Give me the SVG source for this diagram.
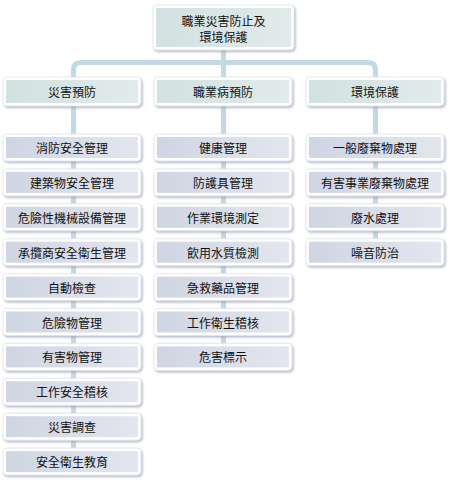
<svg xmlns="http://www.w3.org/2000/svg" width="452" height="483" viewBox="0 0 452 483">
<style>
.t{font-family:"Noto Sans CJK TC","Noto Sans CJK SC",sans-serif;font-size:12px;fill:#111;text-anchor:middle;dominant-baseline:central}
.outer{fill:#fff;stroke:#e2e5ec;stroke-width:0.8;filter:url(#sh)}
.in3{fill:url(#g3)}
.in2{fill:url(#g2)}
.con{fill:none;stroke:#c3d8e5;stroke-width:5}
</style>
<defs>
<linearGradient id="g3" x1="0" y1="0" x2="1" y2="0">
<stop offset="0" stop-color="#d0d5e3"/>
<stop offset="1" stop-color="#e3e6ee"/>
</linearGradient>
<linearGradient id="g2" x1="0" y1="0" x2="1" y2="0">
<stop offset="0" stop-color="#d2e1e1"/>
<stop offset="1" stop-color="#e1ebea"/>
</linearGradient>
<filter id="sh" x="-10%" y="-20%" width="125%" height="160%">
<feDropShadow dx="1.2" dy="1.5" stdDeviation="1.2" flood-color="#8e95aa" flood-opacity="0.7"/>
</filter>
</defs>
<rect width="452" height="483" fill="#fff"/>
<g id="connectors">
<line class="con" x1="223.5" y1="48" x2="223.5" y2="360"/>
<path class="con" d="M73.5 470 V70 Q73.5 62.5 81 62.5 H368 Q375.5 62.5 375.5 70 V255"/>
</g>
<g id="root">
<rect class="outer" x="153" y="5" width="141" height="45" rx="4"/>
<rect class="in2" x="156" y="8" width="135" height="39"/>
<text class="t" x="223.5" y="20">職業災害防止及</text>
<text class="t" x="223.5" y="36">環境保護</text>
</g>
<g id="c1">
<rect class="outer" x="3" y="77" width="138" height="29" rx="4"/>
<rect class="in2" x="6" y="80" width="132" height="23"/>
<text class="t" x="72" y="91.5">災害預防</text>
</g>
<g id="c2">
<rect class="outer" x="154" y="77" width="138" height="29" rx="4"/>
<rect class="in2" x="157" y="80" width="132" height="23"/>
<text class="t" x="223" y="91.5">職業病預防</text>
</g>
<g id="c3">
<rect class="outer" x="306" y="77" width="138" height="29" rx="4"/>
<rect class="in2" x="309" y="80" width="132" height="23"/>
<text class="t" x="375" y="91.5">環境保護</text>
</g>
<g id="a1"><rect class="outer" x="3" y="134" width="138" height="27" rx="4"/><rect class="in3" x="6" y="137" width="132" height="21"/><text class="t" x="72" y="147.5">消防安全管理</text></g>
<g id="a2"><rect class="outer" x="3" y="168.9" width="138" height="27" rx="4"/><rect class="in3" x="6" y="171.9" width="132" height="21"/><text class="t" x="72" y="182.4">建築物安全管理</text></g>
<g id="a3"><rect class="outer" x="3" y="203.8" width="138" height="27" rx="4"/><rect class="in3" x="6" y="206.8" width="132" height="21"/><text class="t" x="72" y="217.3">危險性機械設備管理</text></g>
<g id="a4"><rect class="outer" x="3" y="238.7" width="138" height="27" rx="4"/><rect class="in3" x="6" y="241.7" width="132" height="21"/><text class="t" x="72" y="252.2">承攬商安全衛生管理</text></g>
<g id="a5"><rect class="outer" x="3" y="273.6" width="138" height="27" rx="4"/><rect class="in3" x="6" y="276.6" width="132" height="21"/><text class="t" x="72" y="287.1">自動檢查</text></g>
<g id="a6"><rect class="outer" x="3" y="308.5" width="138" height="27" rx="4"/><rect class="in3" x="6" y="311.5" width="132" height="21"/><text class="t" x="72" y="322">危險物管理</text></g>
<g id="a7"><rect class="outer" x="3" y="343.4" width="138" height="27" rx="4"/><rect class="in3" x="6" y="346.4" width="132" height="21"/><text class="t" x="72" y="356.9">有害物管理</text></g>
<g id="a8"><rect class="outer" x="3" y="378.3" width="138" height="27" rx="4"/><rect class="in3" x="6" y="381.3" width="132" height="21"/><text class="t" x="72" y="391.8">工作安全稽核</text></g>
<g id="a9"><rect class="outer" x="3" y="413.2" width="138" height="27" rx="4"/><rect class="in3" x="6" y="416.2" width="132" height="21"/><text class="t" x="72" y="426.7">災害調查</text></g>
<g id="a10"><rect class="outer" x="3" y="448.1" width="138" height="27" rx="4"/><rect class="in3" x="6" y="451.1" width="132" height="21"/><text class="t" x="72" y="461.6">安全衛生教育</text></g>
<g id="b1"><rect class="outer" x="154" y="134" width="138" height="27" rx="4"/><rect class="in3" x="157" y="137" width="132" height="21"/><text class="t" x="223" y="147.5">健康管理</text></g>
<g id="b2"><rect class="outer" x="154" y="168.9" width="138" height="27" rx="4"/><rect class="in3" x="157" y="171.9" width="132" height="21"/><text class="t" x="223" y="182.4">防護具管理</text></g>
<g id="b3"><rect class="outer" x="154" y="203.8" width="138" height="27" rx="4"/><rect class="in3" x="157" y="206.8" width="132" height="21"/><text class="t" x="223" y="217.3">作業環境測定</text></g>
<g id="b4"><rect class="outer" x="154" y="238.7" width="138" height="27" rx="4"/><rect class="in3" x="157" y="241.7" width="132" height="21"/><text class="t" x="223" y="252.2">飲用水質檢測</text></g>
<g id="b5"><rect class="outer" x="154" y="273.6" width="138" height="27" rx="4"/><rect class="in3" x="157" y="276.6" width="132" height="21"/><text class="t" x="223" y="287.1">急救藥品管理</text></g>
<g id="b6"><rect class="outer" x="154" y="308.5" width="138" height="27" rx="4"/><rect class="in3" x="157" y="311.5" width="132" height="21"/><text class="t" x="223" y="322">工作衛生稽核</text></g>
<g id="b7"><rect class="outer" x="154" y="343.4" width="138" height="27" rx="4"/><rect class="in3" x="157" y="346.4" width="132" height="21"/><text class="t" x="223" y="356.9">危害標示</text></g>
<g id="d1"><rect class="outer" x="306" y="134" width="138" height="27" rx="4"/><rect class="in3" x="309" y="137" width="132" height="21"/><text class="t" x="375" y="147.5">一般廢棄物處理</text></g>
<g id="d2"><rect class="outer" x="306" y="168.9" width="138" height="27" rx="4"/><rect class="in3" x="309" y="171.9" width="132" height="21"/><text class="t" x="375" y="182.4">有害事業廢棄物處理</text></g>
<g id="d3"><rect class="outer" x="306" y="203.8" width="138" height="27" rx="4"/><rect class="in3" x="309" y="206.8" width="132" height="21"/><text class="t" x="375" y="217.3">廢水處理</text></g>
<g id="d4"><rect class="outer" x="306" y="238.7" width="138" height="27" rx="4"/><rect class="in3" x="309" y="241.7" width="132" height="21"/><text class="t" x="375" y="252.2">噪音防治</text></g>
</svg>
